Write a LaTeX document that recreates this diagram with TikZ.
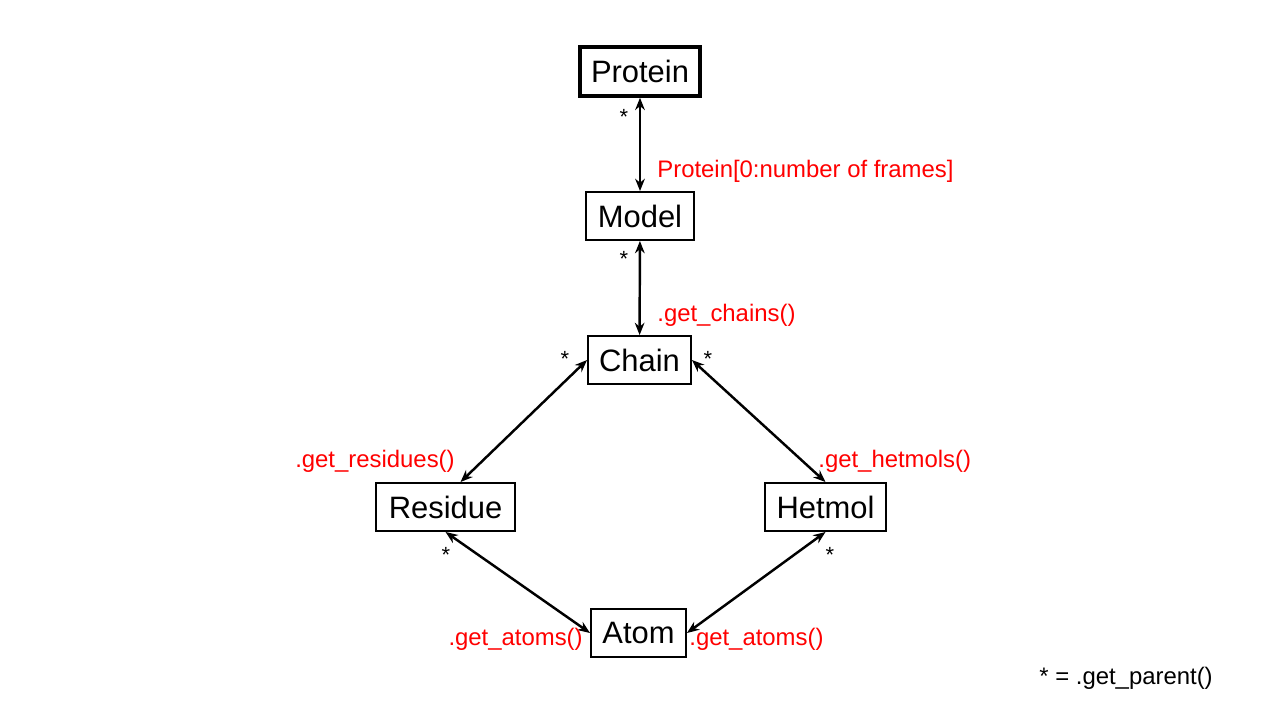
\documentclass[tikz,border=0pt]{standalone}
\usepackage{fontspec}
\setmainfont{Liberation Sans}
\usetikzlibrary{arrows.meta,calc}
\begin{document}
\begin{tikzpicture}[x=0.02cm,y=-0.02cm,
  box/.style={draw, line width=1.1pt, inner sep=0pt, minimum height=0.96cm, font=\fontsize{17.6}{20}\selectfont},
  conn/.style={line width=1.4pt, {Stealth[length=7pt,width=5.5pt]}-{Stealth[length=7pt,width=5.5pt]}},
  meth/.style={text=red, inner sep=0pt, font=\fontsize{13.6}{16}\selectfont},
  star/.style={inner sep=0pt, font=\fontsize{12.5}{15}\selectfont}]
\useasboundingbox (0,0) rectangle (1280,720);
\node[box, line width=2pt, minimum width=2.4cm, minimum height=0.98cm] (protein) at (640,71.5) {Protein};
\node[box, minimum width=2.16cm] (model) at (640,216) {Model};
\node[box, minimum width=2.06cm] (chain) at (639.5,360) {Chain};
\node[box, minimum width=2.78cm] (residue) at (445.5,507) {Residue};
\node[box, minimum width=2.42cm] (hetmol) at (825.5,507) {Hetmol};
\node[box, minimum width=1.9cm] (atom) at (638.5,633) {Atom};

\coordinate (rtop) at ($(residue.north)+(15,0)$);
\draw[conn] (protein) -- (model);
\draw[conn] (model) -- (chain);
\draw[conn] (chain.west) -- (rtop);
\draw[conn] (chain.east) -- (hetmol.north);
\draw[conn] (residue.south) -- (atom.west);
\draw[conn] (hetmol.south) -- (atom.east);

\node[star] (s1) at (624,117) {*};
\node[star] (s2) at (624,259) {*};
\node[star] (s3) at (565,359) {*};
\node[star] (s4) at (708,359) {*};
\node[star] (s5) at (446,555) {*};
\node[star] (s6) at (830,555) {*};

\node[meth, anchor=west] (l1) at (657,171.5) {Protein[0:number of frames]};
\node[meth, anchor=west] (l2) at (657,315.5) {.get\_chains()};
\node[meth, anchor=east] (l3) at (455,461.5) {.get\_residues()};
\node[meth, anchor=west] (l4) at (818,461.5) {.get\_hetmols()};
\node[meth, anchor=east] (l5) at (583,639.5) {.get\_atoms()};
\node[meth, anchor=west] (l6) at (689,639.5) {.get\_atoms()};
\node[meth, text=black, anchor=west] (leg) at (1039,678.5) {* = .get\_parent()};
\end{tikzpicture}
\end{document}
